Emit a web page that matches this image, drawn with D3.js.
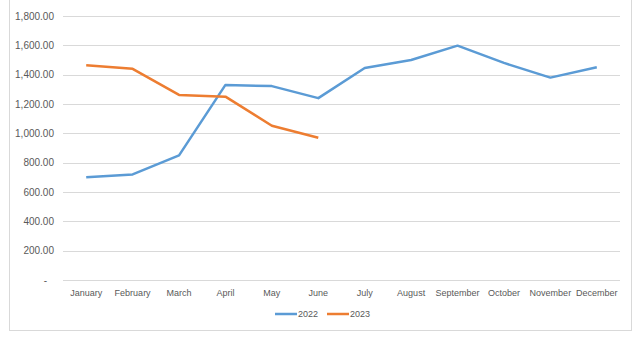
<!DOCTYPE html>
<html><head><meta charset="utf-8">
<script src="https://cdn.jsdelivr.net/npm/d3@7"></script>
<style>body{margin:0;background:#fff}svg{display:block}</style>
</head><body>
<script>
const months = ["January","February","March","April","May","June","July","August","September","October","November","December"];
const values2022 = [700,720,850,1330,1322,1240,1445,1500,1598,1480,1380,1450];
const values2023 = [1465,1440,1262,1250,1052,970];
const seriesNames = ["2022","2023"];
const seriesColors = ["#5B9BD5","#ED7D31"];
const yTicks = [0,200,400,600,800,1000,1200,1400,1600,1800];

const W=641,H=341;
const svg=d3.select("body").append("svg").attr("width",W).attr("height",H);
svg.append("rect").attr("x",9.5).attr("y",-2).attr("width",622).attr("height",332.5)
  .attr("fill","#fff").attr("stroke","#d9d9d9");

const x=d3.scaleBand().domain(months).range([63,620]);
const y=d3.scaleLinear().domain([0,1800]).range([280,16]);

const fmt=d3.format(",.2f");
svg.append("g").selectAll("line").data(yTicks).join("line")
  .attr("x1",63).attr("x2",620).attr("y1",d=>Math.round(y(d))+0.5).attr("y2",d=>Math.round(y(d))+0.5)
  .attr("stroke","#d9d9d9").attr("stroke-width",1);

svg.append("g").selectAll("text").data(yTicks).join("text")
  .attr("x",d=>d===0?47:54).attr("y",d=>y(d)).attr("dy","0.35em").attr("text-anchor","end")
  .attr("font-family","Liberation Sans, Arial, sans-serif").attr("font-size",10).attr("fill","#595959")
  .text(d=>d===0?"-":fmt(d));

svg.append("g").selectAll("text").data(months).join("text")
  .attr("x",d=>x(d)+x.bandwidth()/2).attr("y",296).attr("text-anchor","middle")
  .attr("font-family","Liberation Sans, Arial, sans-serif").attr("font-size",9).attr("fill","#595959")
  .text(d=>d);

const line=d3.line().x((d,i)=>x(months[i])+x.bandwidth()/2).y(d=>y(d));
[values2022,values2023].forEach((vals,k)=>{
  svg.append("path").datum(vals).attr("d",line).attr("fill","none")
    .attr("stroke",seriesColors[k]).attr("stroke-width",2.5).attr("stroke-linejoin","round");
});

const leg=svg.append("g");
const legX=[275,327];
seriesNames.forEach((n,k)=>{
  leg.append("line").attr("x1",legX[k]).attr("x2",legX[k]+22).attr("y1",314).attr("y2",314)
    .attr("stroke",seriesColors[k]).attr("stroke-width",2.5);
  leg.append("text").attr("x",legX[k]+23).attr("y",314).attr("dy","0.35em")
    .attr("font-family","Liberation Sans, Arial, sans-serif").attr("font-size",9).attr("fill","#595959").text(n);
});
</script>
</body></html>
